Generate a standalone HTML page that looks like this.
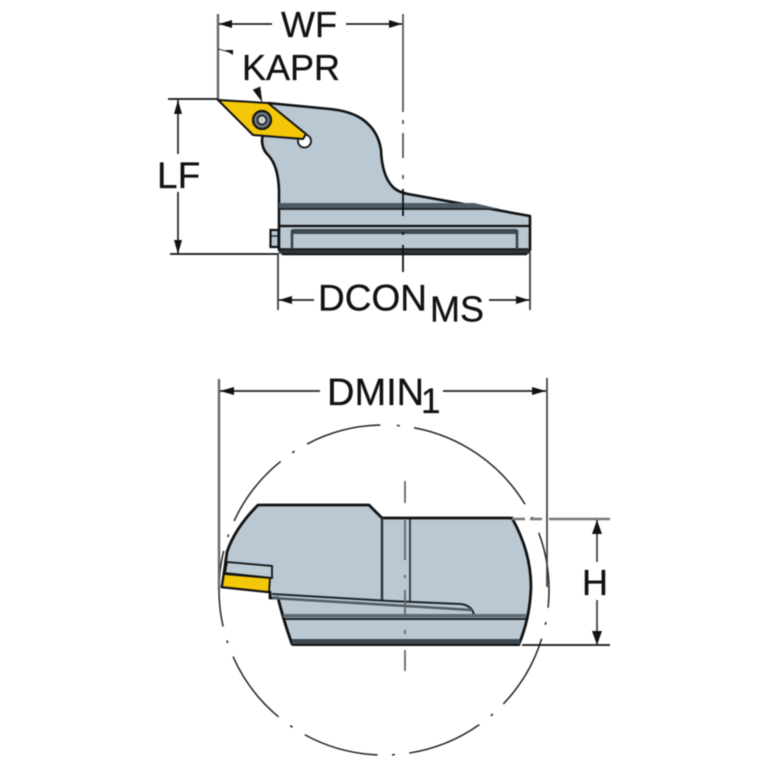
<!DOCTYPE html>
<html><head><meta charset="utf-8"><style>
html,body{margin:0;padding:0;background:#fff;width:767px;height:767px;overflow:hidden}
svg{display:block;filter:blur(.5px)}
text{font-family:"Liberation Sans",sans-serif;fill:#111;stroke:#111;stroke-width:.3px}
</style></head><body>
<svg width="767" height="767" viewBox="0 0 767 767" xmlns="http://www.w3.org/2000/svg">
<rect width="767" height="767" fill="#fff"/>
<!-- Top view body -->
<path d="M268 103 L330 109 Q350 111 362 119 Q378 130 381 150 Q382 175 392 186 Q397 192 408 194 L530 216 L530 250 L526 254 L283 254 L279 250 L279 190 Q278 165 268 155 Q262 149 262 140 Z" fill="#b9c8d3" stroke="#111" stroke-width="2.6" stroke-linejoin="round"/>
<rect x="279" y="203" width="195" height="6" fill="#4f5b64"/>
<path d="M474 203 L500 209 L474 209Z" fill="#4f5b64"/>
<path d="M279 209 H490" stroke="#1d2226" stroke-width="1.8"/>
<path d="M279 226 H529" stroke="#111" stroke-width="2.2"/>
<rect x="292" y="229" width="225" height="5" fill="#3e4951"/>
<rect x="279" y="248.500" width="250" height="5" fill="#2d363c"/>
<path d="M279 249 H528" stroke="#111" stroke-width="1.6"/>
<path d="M292 230 V249 M517 230 V249" stroke="#3a444b" stroke-width="2.6"/>
<rect x="270.500" y="230" width="8" height="17" fill="#b9c8d3" stroke="#111" stroke-width="2.2"/>
<path d="M271 236 H278" stroke="#111" stroke-width="1.2"/>
<!-- hole beside insert -->
<circle cx="304.500" cy="141" r="6.500" fill="#fff" stroke="#111" stroke-width="1.800"/>
<!-- Insert -->
<path d="M218 100 L268 103 L306 134 L303 139 L253 135 Z" fill="#f4c808" stroke="#111" stroke-width="2" stroke-linejoin="round"/>
<circle cx="262" cy="120" r="9" fill="#6d7880" stroke="#111" stroke-width="2.2"/>
<circle cx="262" cy="120" r="4.500" fill="#c6ced4" stroke="#111" stroke-width="1.500"/>
<!-- Top dims -->
<path d="M218 14 V99" stroke="#666" stroke-width="2.400" fill="none"/>
<path d="M403 14 V112 M403 120 V124 M403 133 V158 M403 175 V179" stroke="#555" stroke-width="1.800" fill="none"/>
<path d="M403 189 V216 M403 232 V235 M403 245 V272" stroke="#111" stroke-width="1.800" fill="none"/>
<path d="M219 24 H272 M346 24 H402" stroke="#222" stroke-width="1.800" fill="none"/>
<path d="M219 24 L232 20 V28Z M402 24 L389 20 V28Z" fill="#111"/>
<path d="M218 49 L233 53" stroke="#333" stroke-width="1"/>
<path d="M225 50 L233 50 L233 55Z" fill="#111"/>
<path d="M253 90 L260 87 L262 102" fill="#111" stroke="#333" stroke-width=".8"/>
<path d="M168 99 H218" stroke="#111" stroke-width="1.800"/>
<path d="M170 254 H279" stroke="#111" stroke-width="1.800"/>
<path d="M178 100 V154 M178 192 V253" stroke="#222" stroke-width="1.700" fill="none"/>
<path d="M178 100 L174 114 H182Z M178 254 L174 240 H182Z" fill="#111"/>
<path d="M278 253 V310 M530 252 V310" stroke="#333" stroke-width="1.700" fill="none"/>
<path d="M279 300 H314 M489 300 H529" stroke="#222" stroke-width="1.700" fill="none"/>
<path d="M279 300 L292 296 V304Z M529 300 L516 296 V304Z" fill="#111"/>
<text x="281" y="37" font-size="36">WF</text>
<text x="242" y="80" font-size="36">KAPR</text>
<text x="157" y="188" font-size="37">LF</text>
<text x="318" y="310.500" font-size="37">DCON</text>
<text x="430" y="321.500" font-size="36">MS</text>
<!-- Circle -->
<circle cx="384" cy="590" r="165" fill="none" stroke="#222" stroke-width="1.500" pathLength="360" stroke-dasharray="1 5 48.2 5 1 5 26.5 5 1 5 26.5 5 1 5 26.5 5 1 5 26.5 5 1 5 26.5 5 1 5 26.5 5 1 5 26.5 5 1 5 26.5 5.8" transform="rotate(-85.5 384 590)"/>
<!-- Bottom view body -->
<path d="M258 505 H369 L382 518 H512 Q531 552 531 587 Q530 618 519 644 H292 Q284 622 278 598 H270 V592 L222 587 L227 552 Q235 528 258 505 Z" fill="#b9c8d3" stroke="#111" stroke-width="2.800" stroke-linejoin="round"/>
<path d="M382 518 V600" stroke="#2a3036" stroke-width="2.400"/>
<path d="M410 519 V601" stroke="#2a3036" stroke-width="1.800"/>
<path d="M272 594 L390 601 L460 604 Q472 605 474 615" fill="none" stroke="#1c2227" stroke-width="2"/>
<path d="M272 598 L390 605 L472 610" fill="none" stroke="#4f5b64" stroke-width="2.400"/>
<rect x="283" y="614" width="243" height="3.500" fill="#5f6b74"/>
<path d="M283 619 H526" stroke="#111" stroke-width="1.800"/>
<rect x="292" y="639" width="228" height="5" fill="#3e4951"/>
<path d="M292 645 H520" stroke="#111" stroke-width="2"/>
<!-- bottom insert -->
<path d="M227 562 L272 566 V578 L225 573Z" fill="#bccad4" stroke="#111" stroke-width="1.800"/>
<path d="M224 574 L270 578 L269 592 L222 587 Z" fill="#f4c808" stroke="#111" stroke-width="1.800" stroke-linejoin="round"/>
<!-- Bottom dims -->
<path d="M219 379 V590" stroke="#666" stroke-width="2.400" fill="none"/>
<path d="M547 378 V587" stroke="#444" stroke-width="1.800" fill="none"/>
<path d="M220 391 H320 M443 391 H546" stroke="#222" stroke-width="1.700" fill="none"/>
<path d="M220 391 L234 387 V395Z M546 391 L532 387 V395Z" fill="#111"/>
<path d="M405 481 V503 M405 520 V560 M405 575 V578 M405 590 V615 M405 630 V634 M405 650 V671" stroke="#666" stroke-width="1.800" fill="none"/>
<path d="M512 519 H525 M530 519 H542 M549 519 H610" stroke="#777" stroke-width="2.400" fill="none"/>
<path d="M522 645 H610" stroke="#111" stroke-width="1.800" fill="none"/>
<path d="M597 520 V562 M597 600 V644" stroke="#444" stroke-width="1.800" fill="none"/>
<path d="M597 520 L592 534 H602Z M597 645 L592 631 H602Z" fill="#111"/>
<text x="327" y="405" font-size="38">DMIN</text>
<text x="421" y="413" font-size="35">1</text>
<text x="582" y="595" font-size="36">H</text>
</svg>
</body></html>
